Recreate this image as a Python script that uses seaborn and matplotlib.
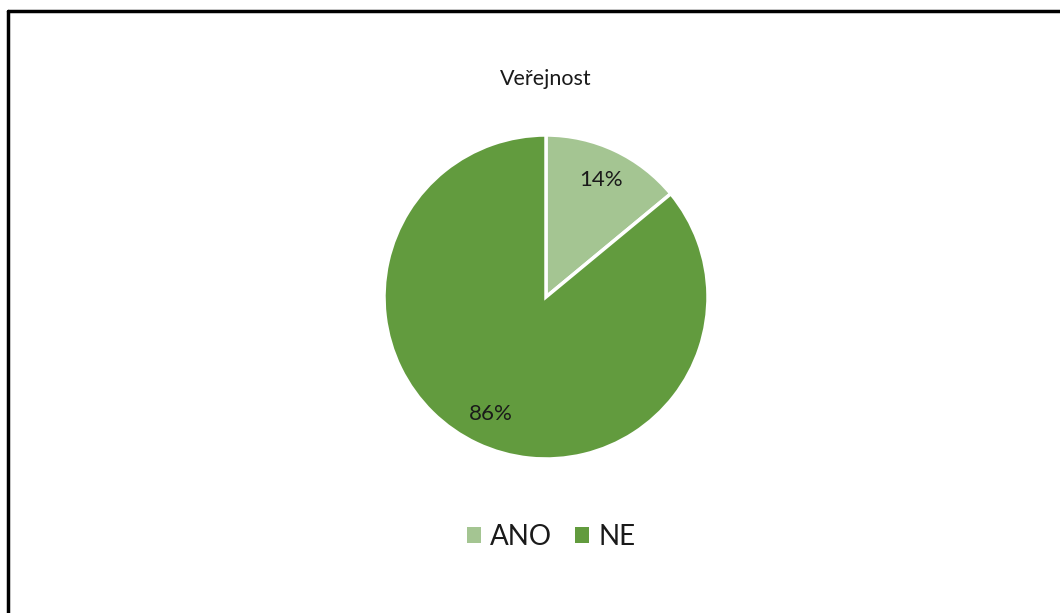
import matplotlib
matplotlib.use("Agg")
import matplotlib.pyplot as plt
import matplotlib.patches as mpatches
from matplotlib.lines import Line2D
import seaborn as sns

title = "Veřejnost"
categories = ["ANO", "NE"]
values = [14, 86]
colors = ["#A4C592", "#629B3E"]

sns.set_theme(style="white")
plt.rcParams["font.family"] = ["Lato", "DejaVu Sans"]

W, H = 1060, 613
fig = plt.figure(figsize=(W / 100, H / 100), dpi=100)
fig.patch.set_facecolor("white")

cx, cy, r = 546, 297, 162
ax = fig.add_axes([(cx - r) / W, (H - cy - r) / H, 2 * r / W, 2 * r / H])
wedges, texts, autotexts = ax.pie(
    values, colors=colors, startangle=90, counterclock=False,
    autopct=lambda p: f"{p:.0f}%", pctdistance=0.8, radius=1,
    wedgeprops=dict(edgecolor="white", linewidth=2.5),
    textprops=dict(fontsize=16, color="#1a1a1a"),
)
ax.set_xlim(-1, 1)
ax.set_ylim(-1, 1)
ax.set_aspect("equal")
ax.axis("off")

fig.text(cx / W, 1 - 79 / H, title, ha="center", va="center", fontsize=15.5, color="#1a1a1a")

handles = [mpatches.Patch(facecolor=c, edgecolor="none") for c in colors]
fig.legend(handles, categories, loc="center", bbox_to_anchor=(551 / W, 1 - 537 / H),
           ncol=2, frameon=False, fontsize=20, handlelength=0.5, handleheight=0.5,
           handletextpad=0.33, columnspacing=0.83, labelcolor="#1a1a1a")

# partial frame (top and left edges)
fig.add_artist(Line2D([7.5 / W, 1], [1 - 11 / H, 1 - 11 / H], transform=fig.transFigure, color="black", linewidth=2.5))
fig.add_artist(Line2D([7.5 / W, 7.5 / W], [0, 1 - 11 / H], transform=fig.transFigure, color="black", linewidth=2.5))

fig.savefig("out.png", dpi=100, facecolor="white")
